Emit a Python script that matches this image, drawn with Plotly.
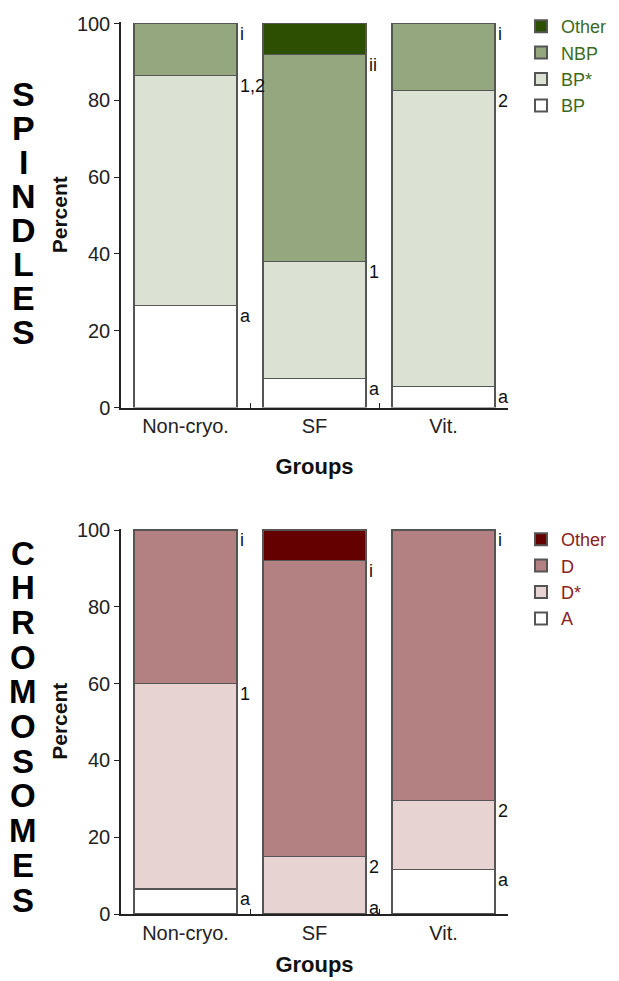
import plotly.graph_objects as go
from plotly.subplots import make_subplots

groups = ["Non-cryo.", "SF", "Vit."]

# Spindles (percent)
sp_BP = [26.5, 7.5, 5.5]
sp_BPs = [60.0, 30.5, 77.0]
sp_NBP = [13.5, 54.0, 17.5]
sp_Other = [0.0, 8.0, 0.0]
sp_labels_BP = ["a", "a", "a"]
sp_labels_BPs = ["1,2", "1", "2"]
sp_labels_NBP = ["i", "ii", "i"]

# Chromosomes (percent)
ch_A = [6.5, 0.0, 11.5]
ch_Ds = [53.5, 15.0, 18.0]
ch_D = [40.0, 77.0, 70.5]
ch_Other = [0.0, 8.0, 0.0]
ch_labels_A = ["a", "a", "a"]
ch_labels_Ds = ["1", "2", "2"]
ch_labels_D = ["i", "i", "i"]

green = {"Other": "#2c4f02", "NBP": "#94a77e", "BP*": "#dbe2d3", "BP": "#ffffff"}
red = {"Other": "#640000", "D": "#b38181", "D*": "#e8d3d3", "A": "#ffffff"}

W, H = 619, 981
OFF = 8  # page body margin of the browser
FONT = "Liberation Sans, Arial, sans-serif"


def px(p):
    return (p - OFF) / W


def py(p):
    return 1 - (p - OFF) / H


fig = make_subplots(rows=2, cols=1)

outline = dict(color="#555555", width=1.3)

for name, vals in [("BP", sp_BP), ("BP*", sp_BPs), ("NBP", sp_NBP), ("Other", sp_Other)]:
    fig.add_trace(go.Bar(x=groups, y=vals, name=name, marker=dict(color=green[name], line=outline),
                         legend="legend"), row=1, col=1)
for name, vals in [("A", ch_A), ("D*", ch_Ds), ("D", ch_D), ("Other", ch_Other)]:
    fig.add_trace(go.Bar(x=groups, y=vals, name=name, marker=dict(color=red[name], line=outline),
                         legend="legend2"), row=2, col=1)


# significance letters, positioned just below the top of each segment
def add_labels(series, labels_list, xref, yref):
    cum = [0.0, 0.0, 0.0]
    for vals, labs in zip(series, labels_list):
        for i in range(3):
            cum[i] += vals[i]
            yv = max(cum[i] - 2.7, 1.6)
            fig.add_annotation(x=i + 0.4, y=yv, xref=xref, yref=yref, text=labs[i],
                               showarrow=False, xanchor="left", yanchor="middle", xshift=1,
                               font=dict(family=FONT, size=18, color="#111111"))


add_labels([sp_BP, sp_BPs, sp_NBP], [sp_labels_BP, sp_labels_BPs, sp_labels_NBP], "x", "y")
add_labels([ch_A, ch_Ds, ch_D], [ch_labels_A, ch_labels_Ds, ch_labels_D], "x2", "y2")


# big vertical words
def vertical_word(word, y_first, spacing, size):
    for k, ch in enumerate(word):
        fig.add_annotation(x=px(23), y=py(y_first + k * spacing), xref="paper", yref="paper",
                           text=ch, showarrow=False, xanchor="center", yanchor="middle",
                           height=spacing - 2,
                           font=dict(family=FONT, size=size, color="#000000", weight="bold"))


vertical_word("SPINDLES", 94, 34, 34)
vertical_word("CHROMOSOMES", 553, 34.7, 33)

xdom = [px(121), px(508)]
top_dom = [py(407.5), py(22)]
bot_dom = [py(914), py(528.5)]

axis_common = dict(showline=True, linecolor="#222222", linewidth=1.5, mirror=False, showgrid=False,
                   zeroline=False, automargin=False,
                   tickfont=dict(family=FONT, size=20, color="#222222"))

fig.update_xaxes(**axis_common, type="category", tickson="boundaries", ticks="inside", ticklen=5,
                 tickcolor="#222222", tickwidth=1.2, range=[-0.5, 2.5], domain=xdom)
fig.update_xaxes(title=dict(text="<b>Groups</b>", font=dict(family=FONT, size=22, color="#111111"), standoff=22),
                 row=1, col=1)
fig.update_xaxes(title=dict(text="<b>Groups</b>", font=dict(family=FONT, size=22, color="#111111"), standoff=14),
                 row=2, col=1)
fig.update_yaxes(**axis_common, range=[0, 100.4], tickvals=[0, 20, 40, 60, 80, 100], ticks="outside",
                 ticklen=5, tickcolor="#222222", tickwidth=1.2,
                 title=dict(text="<b>Percent</b>", font=dict(family=FONT, size=21, color="#111111"), standoff=4))
fig.update_yaxes(domain=top_dom, row=1, col=1)
fig.update_yaxes(domain=bot_dom, row=2, col=1)

legend_common = dict(traceorder="reversed", bgcolor="rgba(0,0,0,0)", borderwidth=0,
                     xanchor="left", yanchor="top", itemsizing="constant", tracegroupgap=0)
fig.update_layout(
    template="none",
    width=W, height=H,
    margin=dict(l=0, r=0, t=0, b=0, autoexpand=False),
    paper_bgcolor="white", plot_bgcolor="white",
    barmode="stack", bargap=0.2,
    showlegend=True,
    legend=dict(**legend_common, x=px(521), y=py(8),
                font=dict(family=FONT, size=18, color="#3d6b1e")),
    legend2=dict(**legend_common, x=px(521), y=py(521),
                 font=dict(family=FONT, size=18, color="#8a2222")),
)

fig.write_html("out.html")
